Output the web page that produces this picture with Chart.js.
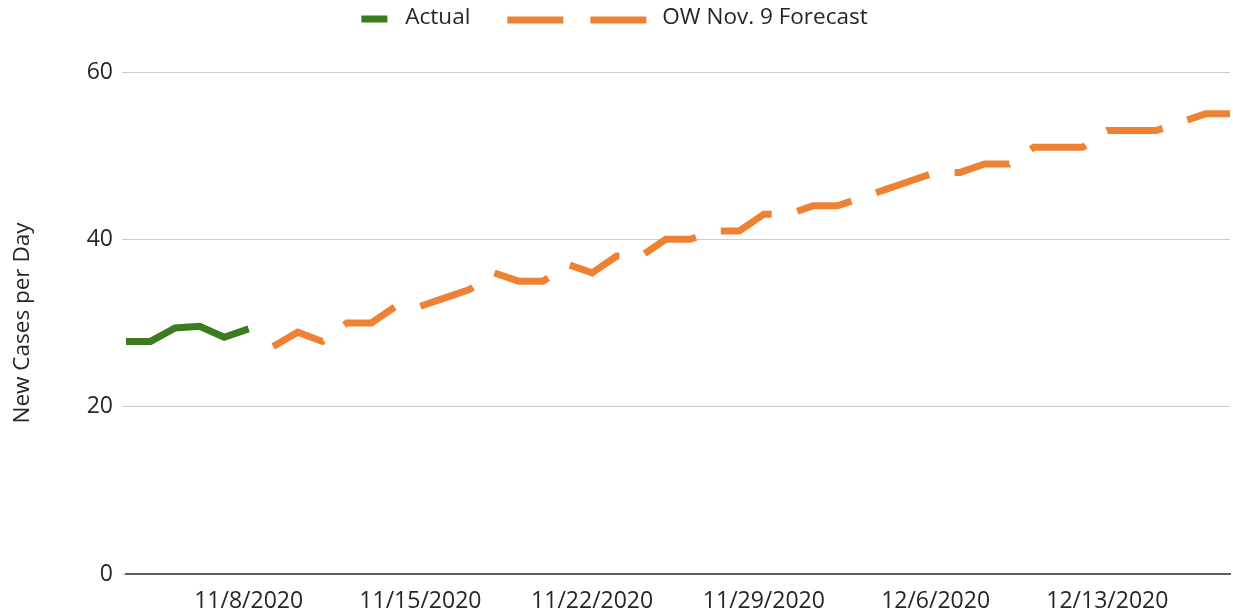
<!DOCTYPE html>
<html>
<head>
<meta charset="utf-8">
<script src="https://cdn.jsdelivr.net/npm/chart.js@4.4.1/dist/chart.umd.min.js"></script>
<style>
  html, body { margin: 0; padding: 0; background: #ffffff; overflow: hidden; }
  #wrap { position: relative; width: 1233px; height: 613px; }
</style>
</head>
<body>
<div id="wrap"><canvas id="c"></canvas></div>
<script>
// ---- data ----
const categories = [
  '11/3/2020','11/4/2020','11/5/2020','11/6/2020','11/7/2020','11/8/2020',
  '11/9/2020','11/10/2020','11/11/2020','11/12/2020','11/13/2020','11/14/2020',
  '11/15/2020','11/16/2020','11/17/2020','11/18/2020','11/19/2020','11/20/2020',
  '11/21/2020','11/22/2020','11/23/2020','11/24/2020','11/25/2020','11/26/2020',
  '11/27/2020','11/28/2020','11/29/2020','11/30/2020','12/1/2020','12/2/2020',
  '12/3/2020','12/4/2020','12/5/2020','12/6/2020','12/7/2020','12/8/2020',
  '12/9/2020','12/10/2020','12/11/2020','12/12/2020','12/13/2020','12/14/2020',
  '12/15/2020','12/16/2020','12/17/2020','12/18/2020'
];
const actualDates = ['11/3/2020','11/4/2020','11/5/2020','11/6/2020','11/7/2020','11/8/2020'];
const actualValues = [27.8, 27.8, 29.4, 29.6, 28.3, 29.3];
const forecastStart = '11/9/2020';
const forecastValues = [
  27.2, 28.9, 27.8, 30, 30, 32, 32, 33, 34, 36,
  35, 35, 37, 36, 38, 38, 40, 40, 41, 41,
  43, 43, 44, 44, 45, 46, 47, 48, 48, 49,
  49, 51, 51, 51, 53, 53, 53, 54, 55, 55
];
const xTickLabels = ['11/8/2020','11/15/2020','11/22/2020','11/29/2020','12/6/2020','12/13/2020'];
const yTicks = [0, 20, 40, 60];
const seriesNames = ['Actual', 'OW Nov. 9 Forecast'];
const yTitle = 'New Cases per Day';

// ---- build datasets ----
const actualData = categories.map(c => {
  const i = actualDates.indexOf(c);
  return i >= 0 ? actualValues[i] : null;
});
const fStart = categories.indexOf(forecastStart);
const forecastData = categories.map((c, i) => {
  const j = i - fStart;
  return (j >= 0 && j < forecastValues.length) ? forecastValues[j] : null;
});

const GREEN = '#3b7c1f';
const ORANGE = '#ee8133';
const TEXT = '#262626';
const FONT = "'Open Sans', 'DejaVu Sans', sans-serif";

// custom legend (Google-Sheets style, dashed sample for forecast)
const legendPlugin = {
  id: 'sheetLegend',
  afterDraw(chart) {
    const ctx = chart.ctx;
    ctx.save();
    ctx.font = '22.5px ' + FONT;
    ctx.textBaseline = 'middle';
    ctx.fillStyle = TEXT;
    const boxW = 26, gap1 = 18, gapItems = 37, dashW = 139, gap2 = 16;
    const w1 = ctx.measureText(seriesNames[0]).width;
    const w2 = ctx.measureText(seriesNames[1]).width;
    const total = boxW + gap1 + w1 + gapItems + dashW + gap2 + w2;
    let x = (chart.width - total) / 2 - 2;
    const y = 19;
    ctx.fillStyle = GREEN;
    ctx.fillRect(x, y - 3.5, boxW, 7);
    x += boxW + gap1;
    ctx.fillStyle = TEXT;
    ctx.fillText(seriesNames[0], x, y - 1);
    x += w1 + gapItems;
    ctx.strokeStyle = ORANGE;
    ctx.lineWidth = 7;
    ctx.lineCap = 'butt';
    ctx.setLineDash([56, 27]);
    ctx.beginPath();
    ctx.moveTo(x, y + 1);
    ctx.lineTo(x + dashW, y + 1);
    ctx.stroke();
    ctx.setLineDash([]);
    x += dashW + gap2;
    ctx.fillStyle = TEXT;
    ctx.fillText(seriesNames[1], x, y - 1);
    ctx.restore();
  }
};

new Chart(document.getElementById('c'), {
  type: 'line',
  data: {
    labels: categories,
    datasets: [
      {
        label: seriesNames[0],
        data: actualData,
        borderColor: GREEN,
        backgroundColor: GREEN,
        borderWidth: 7,
        pointRadius: 0,
        tension: 0,
        borderJoinStyle: 'miter',
        borderCapStyle: 'butt',
        spanGaps: false
      },
      {
        label: seriesNames[1],
        data: forecastData,
        borderColor: ORANGE,
        backgroundColor: ORANGE,
        borderWidth: 7,
        borderDash: [56, 26],
        pointRadius: 0,
        tension: 0,
        borderJoinStyle: 'miter',
        borderCapStyle: 'butt',
        spanGaps: false
      }
    ]
  },
  options: {
    responsive: true,
    maintainAspectRatio: false,
    animation: false,
    devicePixelRatio: 1,
    layout: { padding: { top: 72, right: 3, bottom: 1, left: 0 } },
    plugins: {
      legend: { display: false },
      tooltip: { enabled: false },
      title: { display: false }
    },
    scales: {
      x: {
        type: 'category',
        offset: false,
        grid: { display: false, drawTicks: false },
        border: { display: true, color: '#5f5f5f', width: 2 },
        afterFit: (scale) => { scale.height = 38; scale.paddingLeft = 0; scale.paddingRight = 0; },
        ticks: {
          autoSkip: false,
          maxRotation: 0,
          minRotation: 0,
          padding: 16,
          color: TEXT,
          font: { family: FONT, size: 23, lineHeight: 1 },
          callback: function (value) {
            const lab = this.getLabelForValue(value);
            return xTickLabels.includes(lab) ? lab : '';
          }
        }
      },
      y: {
        min: 0,
        max: 60,
        afterBuildTicks: (axis) => { axis.ticks = yTicks.map(v => ({ value: v })); },
        afterFit: (scale) => { scale.width = 126; scale.paddingTop = 0; scale.paddingBottom = 0; },
        grid: { color: '#cccccc', lineWidth: 1, drawTicks: true, tickLength: 4 },
        border: { display: false },
        ticks: {
          padding: 9,
          color: TEXT,
          font: { family: FONT, size: 23 }
        },
        title: {
          display: true,
          text: yTitle,
          color: TEXT,
          font: { family: FONT, size: 22.5 },
          padding: { top: 9, bottom: 40 }
        }
      }
    }
  },
  plugins: [legendPlugin]
});
</script>
</body>
</html>
